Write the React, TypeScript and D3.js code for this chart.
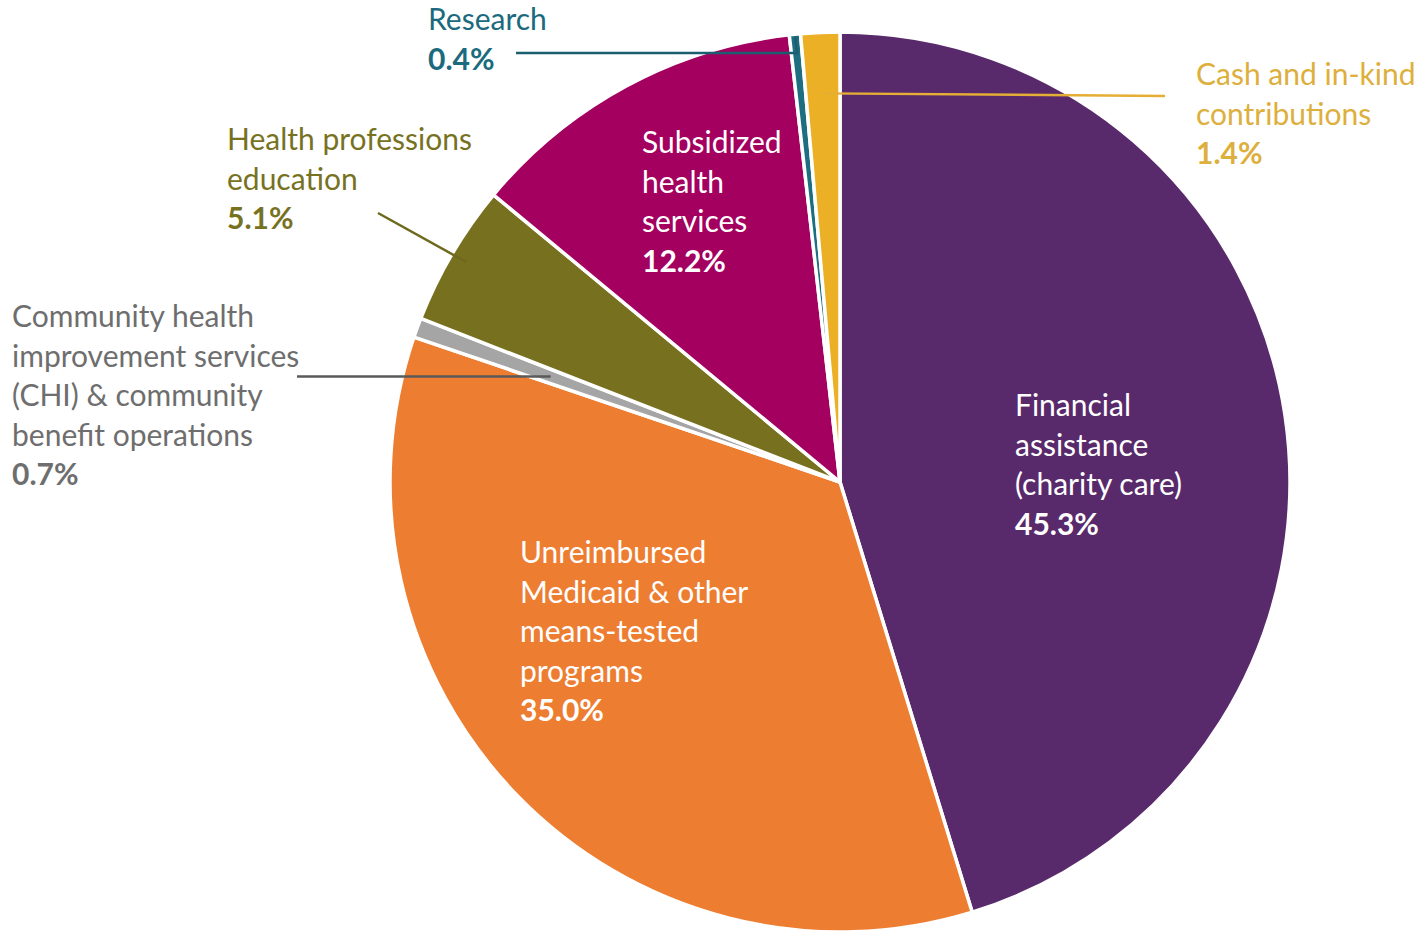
import React from "react";
import * as d3 from "d3";

const categories = [
  "Financial assistance (charity care)",
  "Unreimbursed Medicaid & other means-tested programs",
  "Community health improvement services (CHI) & community benefit operations",
  "Health professions education",
  "Subsidized health services",
  "Research",
  "Cash and in-kind contributions",
];
const values = [45.3, 35.0, 0.7, 5.1, 12.2, 0.4, 1.4];
const sliceColors = ["#592A6B", "#ED7D31", "#A5A5A5", "#77701E", "#A3005F", "#1E6E82", "#EBB025"];
const labelLines = [
  ["Financial", "assistance", "(charity care)"],
  ["Unreimbursed", "Medicaid & other", "means-tested", "programs"],
  ["Community health", "improvement services", "(CHI) & community", "benefit operations"],
  ["Health professions", "education"],
  ["Subsidized", "health", "services"],
  ["Research"],
  ["Cash and in-kind", "contributions"],
];
const percentLabels = ["45.3%", "35.0%", "0.7%", "5.1%", "12.2%", "0.4%", "1.4%"];
const labelColors = ["#FFFFFF", "#FFFFFF", "#6E6E6E", "#77721F", "#FFFFFF", "#1B6A7E", "#DDAF3C"];

// layout (first line vertical centre)
const labelPos = [
  { x: 1015, y: 406 },
  { x: 520, y: 553 },
  { x: 12, y: 317 },
  { x: 227, y: 140 },
  { x: 642, y: 143 },
  { x: 428, y: 20 },
  { x: 1196, y: 75 },
];
const lineColors = ["", "", "#5A5A5A", "#6E691C", "", "#1B5E70", "#E5AE35"];

const W = 1421;
const H = 933;
const CX = 840;
const CY = 482;
const R = 450;
const LH = 39.5;
const FS = 30;

export default function App() {
  const data = values.map((v, i) => ({ v, i }));
  const pie = d3
    .pie<{ v: number; i: number }>()
    .sort(null)
    .value((d) => d.v)
    .startAngle(0)
    .endAngle(Math.PI * 2);
  const arcs = pie(data);
  const arc = d3.arc<d3.PieArcDatum<{ v: number; i: number }>>().innerRadius(0).outerRadius(R);

  const pointAt = (i: number, r: number) => {
    const a = arcs[i];
    const m = (a.startAngle + a.endAngle) / 2;
    return [CX + r * Math.sin(m), CY - r * Math.cos(m)];
  };

  // leader lines
  const resPt = pointAt(5, 447);
  const cashPt = pointAt(6, 389);
  const hpPt = pointAt(3, 434);
  const chiPt = pointAt(2, 308);
  const line = d3.line();
  const leaders = [
    { pts: [[516, 53], [resPt[0] + 2, 53], [resPt[0], resPt[1]]], c: lineColors[5] },
    { pts: [[cashPt[0], cashPt[1]], [1165, 96]], c: lineColors[6] },
    { pts: [[378, 213], [hpPt[0], hpPt[1]]], c: lineColors[3] },
    { pts: [[297, chiPt[1]], [chiPt[0], chiPt[1]]], c: lineColors[2] },
  ];

  return (
    <svg
      width={W}
      height={H}
      style={{ position: "absolute", left: 0, top: 0, background: "#fff" }}
      fontFamily="Lato, 'Open Sans', sans-serif"
    >
      <g>
        {arcs.map((a, k) => (
          <path
            key={k}
            d={arc(a) || ""}
            transform={`translate(${CX},${CY})`}
            fill={sliceColors[k]}
            stroke="#fff"
            strokeWidth={3.5}
            strokeLinejoin="round"
          />
        ))}
      </g>
      <g>
        {leaders.map((l, k) => (
          <path key={k} d={line(l.pts as [number, number][]) || ""} fill="none" stroke={l.c} strokeWidth={2.5} />
        ))}
      </g>
      <g>
        {labelLines.map((lines, i) => {
          const p = labelPos[i];
          return (
            <text key={i} x={p.x} fill={labelColors[i]} fontSize={FS}>
              {lines.map((t, j) => (
                <tspan key={j} x={p.x} y={p.y + j * LH + 10}>
                  {t}
                </tspan>
              ))}
              <tspan x={p.x} y={p.y + lines.length * LH + 10} fontWeight="bold">
                {percentLabels[i]}
              </tspan>
            </text>
          );
        })}
      </g>
    </svg>
  );
}
